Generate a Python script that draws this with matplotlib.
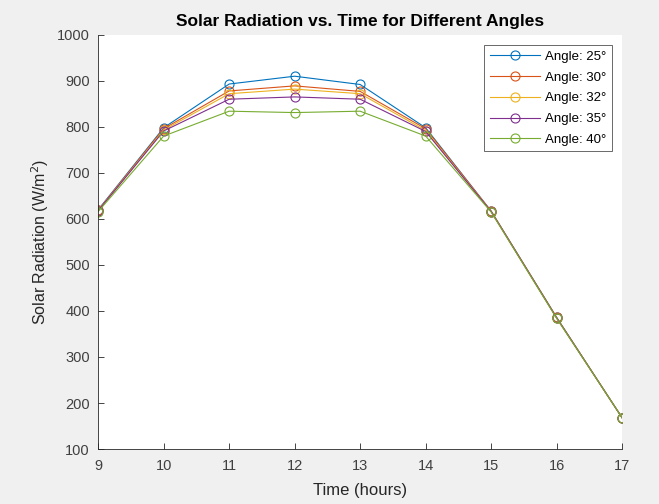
import matplotlib
matplotlib.use("Agg")
import matplotlib.pyplot as plt

# === Data ===
hours = [9, 10, 11, 12, 13, 14, 15, 16, 17]
angles = [25, 30, 32, 35, 40]
rad_25 = [620, 798, 893, 910, 892, 798, 617, 386, 168]
rad_30 = [619, 796, 878, 889, 877, 796, 617, 386, 168]
rad_32 = [618, 793, 872, 882, 872, 792, 616, 385, 168]
rad_35 = [618, 791, 860, 865, 860, 790, 616, 385, 168]
rad_40 = [616, 780, 834, 831, 834, 780, 615, 384, 168]
series = [rad_25, rad_30, rad_32, rad_35, rad_40]
colors = ["#0072BD", "#D95319", "#EDB120", "#7E2F8E", "#77AC30"]

plt.rcParams["font.family"] = ["Liberation Sans", "DejaVu Sans"]

fig = plt.figure(figsize=(6.59, 5.04), dpi=100, facecolor="#f0f0f0")
ax = fig.add_axes([0.149, 0.109, 0.795, 0.822])

for ang, vals, c in zip(angles, series, colors):
    ax.plot(hours, vals, "-o", color=c, lw=0.8, ms=6.5, mfc="none", mew=0.8,
            label=f"Angle: {ang}°")

ax.set_xlim(9, 17)
ax.set_ylim(100, 1000)
ax.set_xticks(range(9, 18))
ax.set_yticks(range(100, 1001, 100))
ax.tick_params(direction="in", length=4, width=0.6, colors="#262626",
               labelcolor="#404040", labelsize=10.5)
ax.tick_params(axis="x", pad=7)
ax.tick_params(axis="y", pad=6)
for s in ["top", "right"]:
    ax.spines[s].set_visible(False)
for s in ["left", "bottom"]:
    ax.spines[s].set_color("#262626")
    ax.spines[s].set_linewidth(0.6)

ax.set_title("Solar Radiation vs. Time for Different Angles", fontsize=12.5,
             fontweight="bold", color="#000000", pad=6)
ax.set_xlabel("Time (hours)", fontsize=12, color="#262626", labelpad=7)
ax.set_ylabel("Solar Radiation (W/m$^2$)", fontsize=11.5, color="#262626",
              labelpad=4)

leg = ax.legend(loc="upper right", fontsize=9.5, frameon=True, fancybox=False,
                edgecolor="#262626", handlelength=3.8, handletextpad=0.4,
                borderaxespad=0.8, labelspacing=0.65)
leg.get_frame().set_linewidth(0.6)

fig.savefig("out.png", dpi=100, facecolor=fig.get_facecolor())
